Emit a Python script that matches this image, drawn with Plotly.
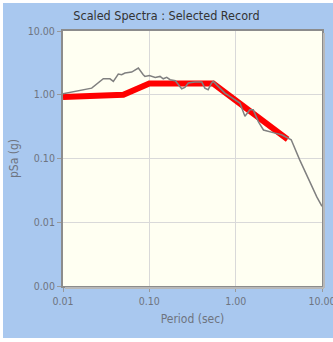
import plotly.graph_objects as go

# Target (design) spectrum
target_period = [0.01, 0.05, 0.1, 0.55, 4.0]
target_psa = [0.92, 1.0, 1.5, 1.5, 0.2]

# Scaled record spectrum
record_period = [0.01, 0.0215, 0.0293, 0.035, 0.0383, 0.0437, 0.0478, 0.0522, 0.0625,
                 0.0746, 0.085, 0.089, 0.1, 0.117, 0.133, 0.145, 0.159, 0.174, 0.2,
                 0.217, 0.237, 0.258, 0.283, 0.337, 0.405, 0.44, 0.48, 0.527, 0.55,
                 0.75, 0.95, 1.12, 1.28, 1.46, 1.6, 1.83, 2.1, 2.5, 2.86, 3.4, 4.05,
                 4.4, 5.5, 7.3, 8.7, 10.0]
record_psa = [1.04, 1.27, 1.78, 1.78, 1.62, 2.11, 2.06, 2.19, 2.27,
              2.62, 2.06, 1.94, 2.0, 1.87, 1.94, 1.78, 1.87, 1.72, 1.66,
              1.43, 1.24, 1.30, 1.53, 1.58, 1.58, 1.27, 1.20, 1.53, 1.62,
              1.06, 0.86, 0.74, 0.46, 0.58, 0.58, 0.38, 0.28, 0.266, 0.25, 0.236, 0.21,
              0.197, 0.096, 0.041, 0.025, 0.0178]

x_tickvals = [0.01, 0.1, 1, 10]
x_ticktext = ["0.01", "0.10", "1.00", "10.00"]
y_tickvals = [0.001, 0.01, 0.1, 1, 10]
y_ticktext = ["0.00", "0.01", "0.10", "1.00", "10.00"]

fig = go.Figure()
fig.add_trace(go.Scatter(x=target_period, y=target_psa, mode="lines",
                         line=dict(color="#ff0000", width=6), hoverinfo="skip"))
fig.add_trace(go.Scatter(x=record_period, y=record_psa, mode="lines",
                         line=dict(color="#808080", width=1.5), hoverinfo="skip"))

font = "DejaVu Sans Condensed, DejaVu Sans, sans-serif"
fig.update_layout(
    width=333, height=342,
    margin=dict(l=63, r=11, t=31, b=56, autoexpand=False),
    paper_bgcolor="#ffffff",
    plot_bgcolor="#fffff2",
    showlegend=False,
    title=dict(text="Scaled Spectra : Selected Record", x=0.5, xanchor="center",
               y=1 - 16 / 342, yanchor="middle",
               font=dict(family=font, size=12.5, color="#333333")),
    shapes=[
        dict(type="rect", xref="paper", yref="paper",
             x0=(3 - 63) / 259, x1=(340 - 63) / 259,
             y0=(286 - 338) / 255, y1=(286 - 3) / 255,
             fillcolor="#a9c8ef", line=dict(width=0), layer="below"),
        dict(type="rect", xref="paper", yref="paper",
             x0=0, x1=1, y0=0, y1=1,
             fillcolor="#fffff2", line=dict(width=0), layer="below"),
        dict(type="line", xref="paper", yref="paper",
             x0=1 + 2 / 259, x1=1 + 2 / 259, y0=-2 / 255, y1=1 - 2 / 255,
             line=dict(color="#b8b8b8", width=2)),
        dict(type="line", xref="paper", yref="paper",
             x0=2 / 259, x1=1 + 2 / 259, y0=-2 / 255, y1=-2 / 255,
             line=dict(color="#b8b8b8", width=2)),
    ],
    xaxis=dict(type="log", range=[-2, 1], tickvals=x_tickvals, ticktext=x_ticktext,
               automargin=False,
               showgrid=True, gridcolor="#d9d9d9", gridwidth=1,
               showline=True, linecolor="#8c8c8c", linewidth=2, mirror=True,
               ticks="outside", ticklen=4, tickcolor="#999999",
               ticklabeloverflow="allow",
               tickfont=dict(family=font, size=10.5, color="#6e7480"),
               title=dict(text="Period (sec)", standoff=9,
                          font=dict(family=font, size=12, color="#6e7480")),
               zeroline=False),
    yaxis=dict(type="log", range=[-3, 1], tickvals=y_tickvals, ticktext=y_ticktext,
               automargin=False,
               showgrid=True, gridcolor="#d9d9d9", gridwidth=1,
               showline=True, linecolor="#8c8c8c", linewidth=2, mirror=True,
               ticks="outside", ticklen=4, tickcolor="#999999",
               ticklabeloverflow="allow",
               tickfont=dict(family=font, size=10.5, color="#6e7480"),
               title=dict(text="pSa (g)", standoff=7,
                          font=dict(family=font, size=12, color="#6e7480")),
               zeroline=False),
)

fig.write_html("out.html",
               config={"displayModeBar": False, "staticPlot": True},
               post_script="document.body.style.margin='0';document.body.style.overflow='hidden';")
